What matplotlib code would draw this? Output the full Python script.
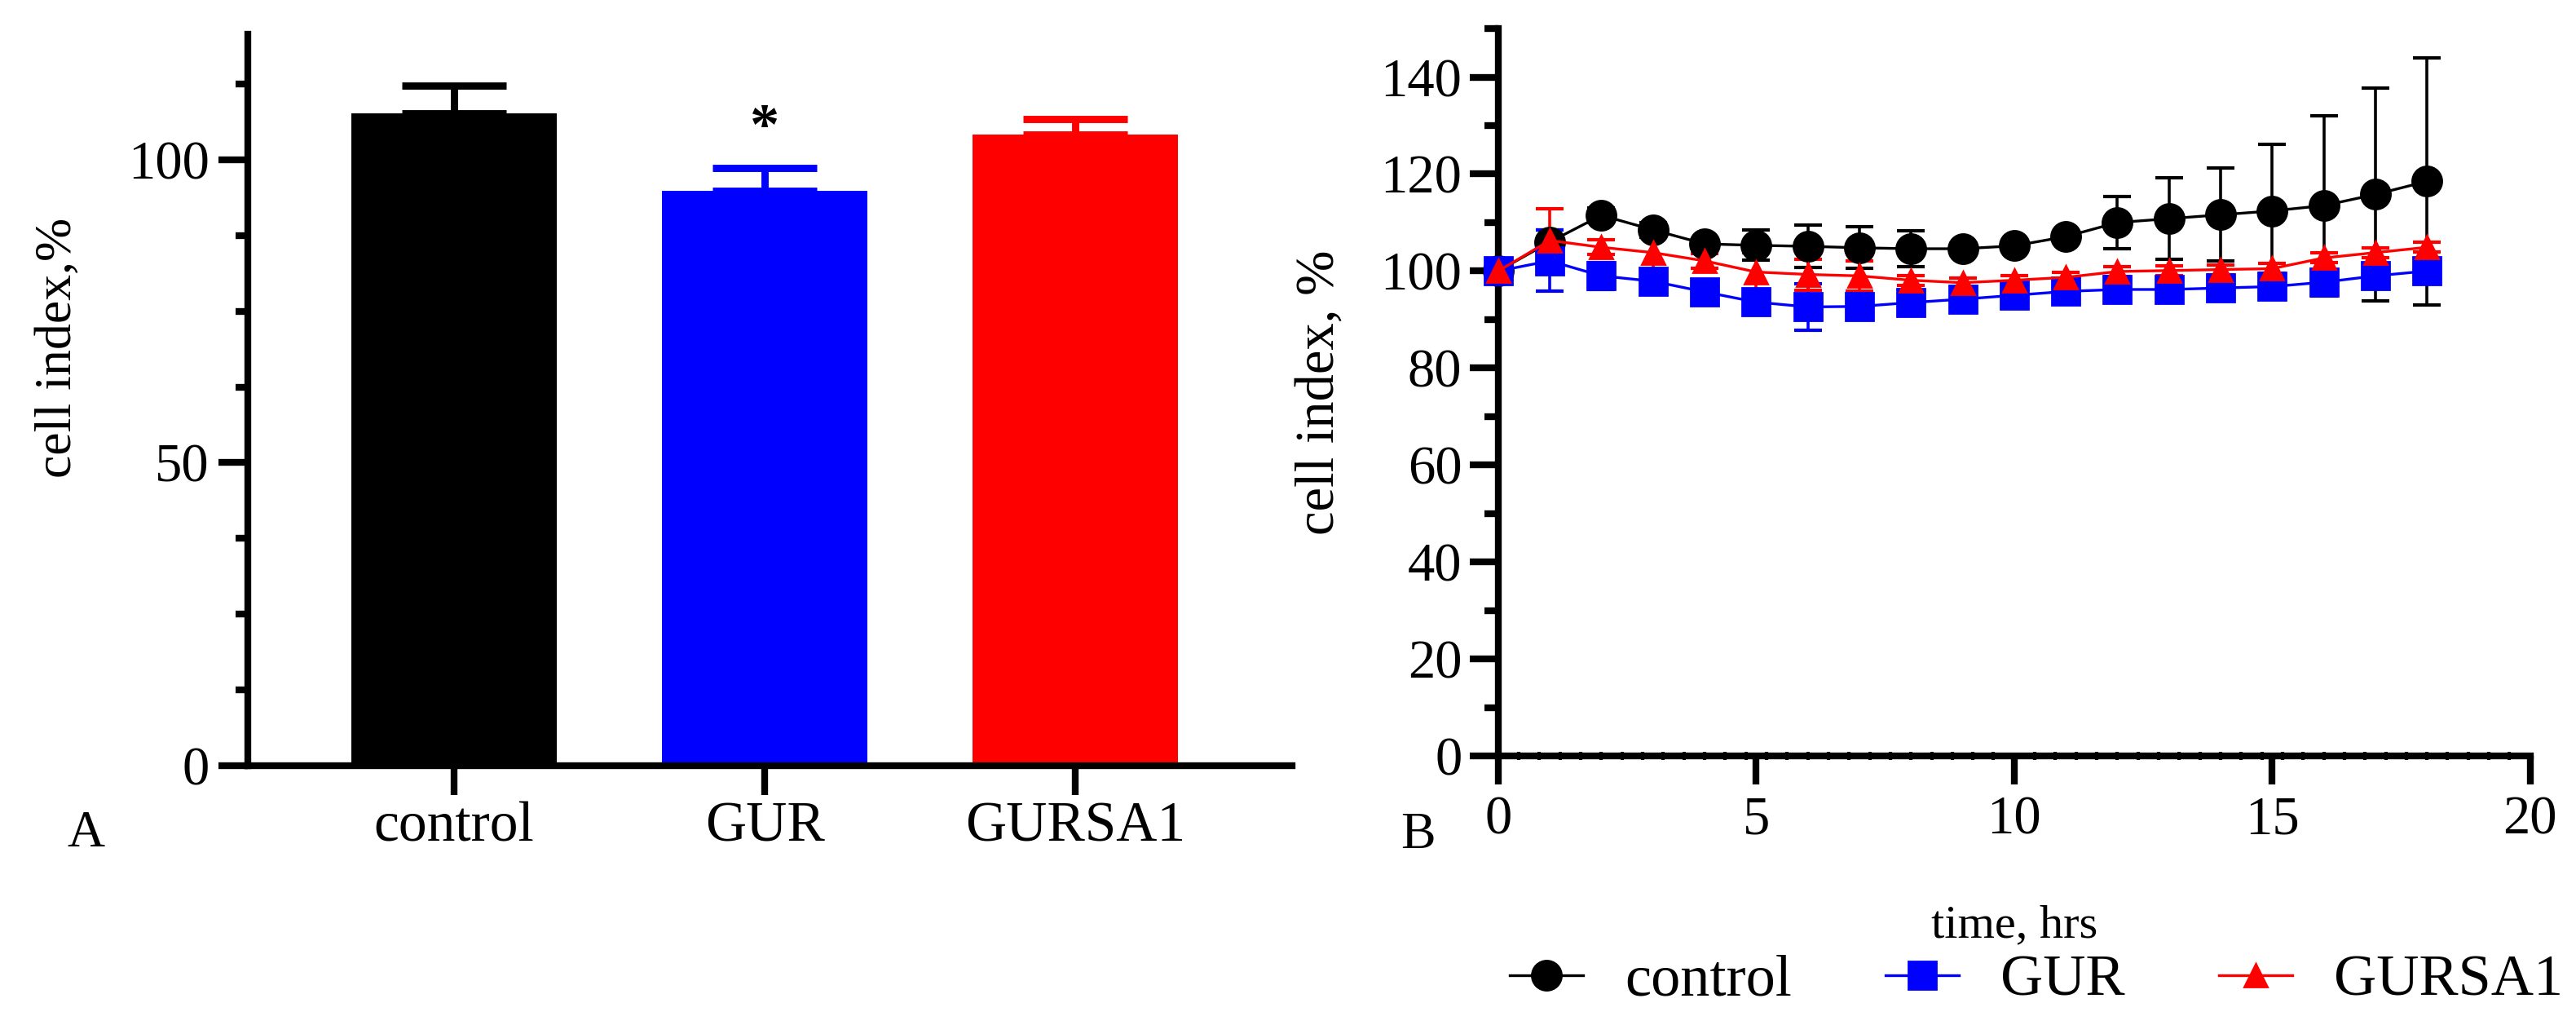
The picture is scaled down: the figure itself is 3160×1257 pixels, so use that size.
import matplotlib
matplotlib.use("Agg")
import matplotlib.pyplot as plt
from matplotlib.ticker import MultipleLocator

plt.rcParams['font.family'] = ['Liberation Serif', 'DejaVu Serif']

# ---------------- data: panel A (bar chart) ----------------
groups = ['control', 'GUR', 'GURSA1']
bar_mean = [107.7, 94.9, 104.2]
bar_sd = [4.5, 3.7, 2.5]
bar_colors = ['#000000', '#0000ff', '#ff0000']

# ---------------- data: panel B (time course) ----------------
hours = list(range(19))
control = [100, 106.0, 111.5, 108.5, 105.6, 105.3, 105.1, 104.8, 104.6, 104.6,
           105.2, 107.1, 110.0, 110.8, 111.6, 112.4, 113.5, 115.8, 118.5]
control_sd = [0, 2.5, 1.5, 1.5, 1.0, 3.1, 4.4, 4.3, 3.7, 1.0,
              1.0, 1.0, 5.4, 8.4, 9.6, 13.7, 18.6, 21.9, 25.5]
gur = [100, 102.1, 99.0, 97.9, 95.7, 93.6, 92.6, 92.7, 93.5, 94.2,
       95.0, 95.8, 96.2, 96.2, 96.5, 96.8, 97.7, 99.0, 100.0]
gur_sd = [0, 6.3, 2.8, 1.5, 1.5, 2.5, 4.8, 2.5, 1.5, 1.5,
          1.0, 1.0, 1.0, 1.0, 1.0, 1.0, 1.0, 1.0, 1.0]
gursa1 = [100, 106.3, 104.9, 103.8, 102.1, 99.8, 99.3, 99.0, 98.1, 97.6,
          98.1, 98.7, 99.9, 100.1, 100.3, 100.5, 102.7, 103.8, 104.9]
gursa1_sd = [0, 6.6, 1.5, 3.6, 1.5, 4.0, 3.2, 3.1, 1.0, 1.0,
             1.0, 1.0, 1.0, 1.0, 1.0, 1.0, 1.0, 1.0, 1.0]
series_names = ['control', 'GUR', 'GURSA1']

fig = plt.figure(figsize=(15.8, 6.285), dpi=200)

# ================= panel A =================
axA = fig.add_axes([0.0962, 0.2530, 0.4054, 0.7136])
xpos = list(range(len(groups)))
axA.bar(xpos, bar_mean, width=0.66, color=bar_colors, zorder=2)
for i in xpos:
    axA.errorbar(xpos[i], bar_mean[i], yerr=[[0], [bar_sd[i]]], color=bar_colors[i],
                 elinewidth=3.2, capsize=23, capthick=3.2, zorder=3)
axA.text(1, 102.6, '*', ha='center', va='baseline', fontsize=26, fontweight='bold')

axA.set_xlim(-0.664, 2.698)
axA.set_ylim(0, 120.7)
axA.set_xticks(xpos)
axA.set_xticklabels(groups)
axA.yaxis.set_major_locator(MultipleLocator(50))
axA.yaxis.set_minor_locator(MultipleLocator(12.5))
for s in ['top', 'right']:
    axA.spines[s].set_visible(False)
for s in ['left', 'bottom']:
    axA.spines[s].set_linewidth(3)
axA.tick_params(axis='both', which='major', width=3, length=13, labelsize=24)
axA.tick_params(axis='y', which='major', pad=4)
axA.tick_params(axis='x', which='major', pad=3, labelsize=25)
axA.tick_params(axis='y', which='minor', width=3, length=5.5)
axA.set_ylabel('cell index,%', fontsize=23)
axA.yaxis.set_label_coords(-0.159, 0.571)

# ================= panel B =================
axB = fig.add_axes([0.5816, 0.2625, 0.4006, 0.7096])
series = [(control, control_sd, 'black', 'o', 13),
          (gur, gur_sd, '#0000ff', 's', 12),
          (gursa1, gursa1_sd, '#ff0000', '^', 10)]
handles = []
for (vals, sd, col, mk, ms), name in zip(series, series_names):
    cont = axB.errorbar(hours, vals, yerr=sd, color=col, marker=mk, markersize=ms,
                        linewidth=1.2, elinewidth=1.3, capsize=6.2, capthick=1.5,
                        clip_on=False, zorder=3)
    handles.append(cont[0])

axB.set_xlim(0, 20)
axB.set_ylim(0, 150)
axB.xaxis.set_major_locator(MultipleLocator(5))
axB.xaxis.set_minor_locator(MultipleLocator(0.4))
axB.yaxis.set_major_locator(MultipleLocator(20))
axB.yaxis.set_minor_locator(MultipleLocator(10))
for s in ['top', 'right']:
    axB.spines[s].set_visible(False)
for s in ['left', 'bottom']:
    axB.spines[s].set_linewidth(3)
axB.tick_params(axis='both', which='major', width=3, length=12.5, labelsize=24)
axB.tick_params(axis='y', which='major', pad=3.5)
axB.tick_params(axis='x', which='major', pad=5)
axB.tick_params(axis='y', which='minor', width=3, length=6)
axB.tick_params(axis='x', which='minor', width=1.5, length=3.6, direction='inout')
axB.set_ylabel('cell index, %', fontsize=24)
axB.yaxis.set_label_coords(-0.1485, 0.5)
axB.set_xlabel('time, hrs', fontsize=21)
axB.xaxis.set_label_coords(0.5, -0.233)
axB.xaxis.label.set_va('center')

fig.legend(handles, series_names, loc='center',
           bbox_to_anchor=(2498 / 3160, 1 - 1203 / 1257), ncol=3, frameon=False,
           fontsize=26, handlelength=1.25, handletextpad=0.7, columnspacing=1.6)

# panel letters
fig.text(105 / 3160, 1 - 1023 / 1257, 'A', fontsize=23, ha='center', va='center')
fig.text(1739 / 3160, 1 - 1025 / 1257, 'B', fontsize=23, ha='center', va='center')

fig.savefig('out.png', dpi=200)
